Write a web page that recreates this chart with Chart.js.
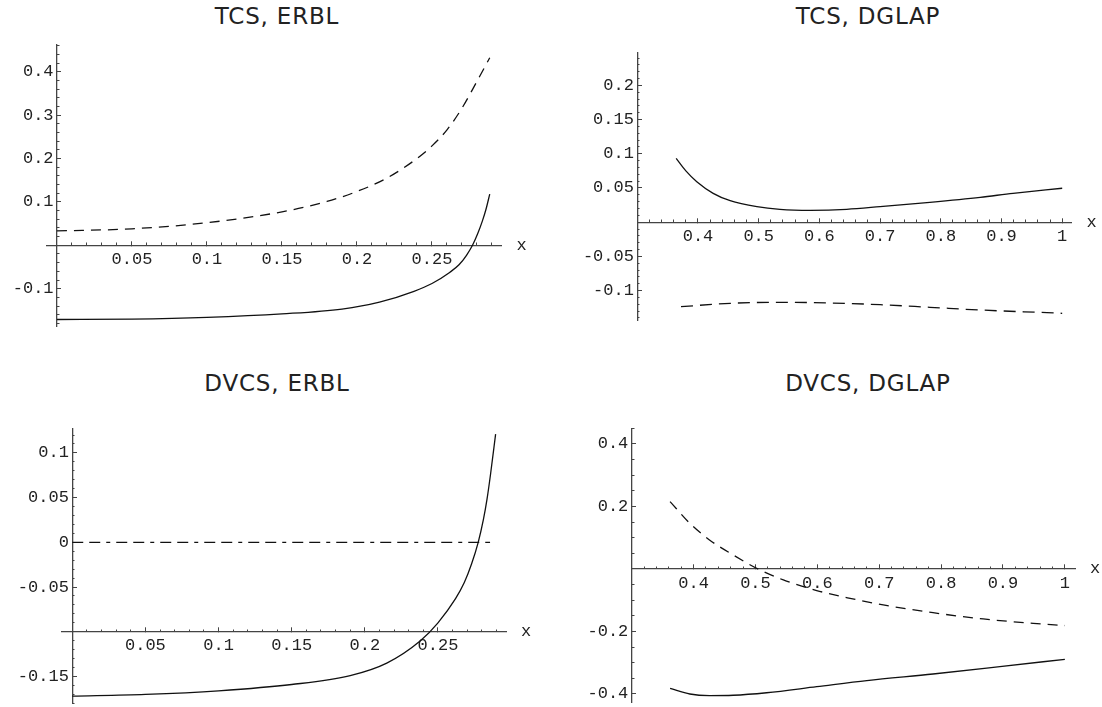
<!DOCTYPE html>
<html>
<head>
<meta charset="utf-8">
<script src="https://cdn.jsdelivr.net/npm/chart.js@4.4.1/dist/chart.umd.min.js"></script>
<style>
  body { margin: 0; background: #fff; width: 1102px; height: 707px; position: relative; overflow: hidden; }
  canvas { position: absolute; }
  .title { position: absolute; width: 400px; text-align: center; font: 23px/23px "DejaVu Sans"; letter-spacing: 0.8px; color: #222; }
</style>
</head>
<body>
<div class="title" style="left:77px;top:5px">TCS, ERBL</div>
<div class="title" style="left:668px;top:5px">TCS, DGLAP</div>
<div class="title" style="left:77px;top:372px">DVCS, ERBL</div>
<div class="title" style="left:668px;top:372px">DVCS, DGLAP</div>

<canvas id="tcsErbl" width="551" height="353" style="left:0;top:0"></canvas>
<canvas id="tcsDglap" width="551" height="353" style="left:551px;top:0"></canvas>
<canvas id="dvcsErbl" width="551" height="354" style="left:0;top:353px"></canvas>
<canvas id="dvcsDglap" width="551" height="354" style="left:551px;top:353px"></canvas>

<script>
// TCS, ERBL
var tcsErblDashX = [0, 0.05, 0.1, 0.15, 0.18, 0.2, 0.22, 0.24, 0.25, 0.26, 0.27, 0.28, 0.2885];
var tcsErblDashY = [0.033, 0.038, 0.052, 0.077, 0.101, 0.124, 0.155, 0.200, 0.229, 0.266, 0.316, 0.378, 0.432];
var tcsErblSolidX = [0, 0.05, 0.1, 0.15, 0.19, 0.215, 0.238, 0.25, 0.262, 0.268, 0.273, 0.277, 0.2805, 0.2835, 0.286, 0.2885];
var tcsErblSolidY = [-0.171, -0.170, -0.166, -0.158, -0.147, -0.131, -0.106, -0.088, -0.062, -0.045, -0.023, 0.0, 0.027, 0.055, 0.083, 0.118];
var tcsErblXTicks = [0.05, 0.1, 0.15, 0.2, 0.25];
var tcsErblYTicks = [-0.1, 0.1, 0.2, 0.3, 0.4];

// TCS, DGLAP
var tcsDglapSolidX = [0.364, 0.38, 0.398, 0.425, 0.453, 0.497, 0.535, 0.585, 0.645, 0.70, 0.782, 0.865, 0.919, 1.0];
var tcsDglapSolidY = [0.0934, 0.0750, 0.0592, 0.0422, 0.0314, 0.0227, 0.0188, 0.0174, 0.0188, 0.0227, 0.0291, 0.0364, 0.0422, 0.0496];
var tcsDglapDashX = [0.372, 0.453, 0.535, 0.617, 0.70, 0.782, 0.865, 0.975, 1.0];
var tcsDglapDashY = [-0.1235, -0.1186, -0.1171, -0.1181, -0.1206, -0.1244, -0.1284, -0.1323, -0.1332];
var tcsDglapXTicks = [0.4, 0.5, 0.6, 0.7, 0.8, 0.9, 1];
var tcsDglapYTicks = [-0.1, -0.05, 0.05, 0.1, 0.15, 0.2];

// DVCS, ERBL
var dvcsErblSolidX = [0, 0.05, 0.1, 0.15, 0.19, 0.215, 0.238, 0.25, 0.262, 0.268, 0.273, 0.2775, 0.281, 0.2835, 0.286, 0.2894];
var dvcsErblSolidY = [-0.172, -0.170, -0.166, -0.159, -0.149, -0.135, -0.110, -0.090, -0.063, -0.045, -0.024, 0.0, 0.025, 0.048, 0.077, 0.121];
var dvcsErblDashX = [0, 0.2856];
var dvcsErblDashY = [0, 0];
var dvcsErblXTicks = [0.05, 0.1, 0.15, 0.2, 0.25];
var dvcsErblYTicks = [-0.15, -0.05, 0, 0.05, 0.1];

// DVCS, DGLAP
var dvcsDglapDashX = [0.362, 0.394, 0.4257, 0.464, 0.502, 0.545, 0.599, 0.653, 0.7065, 0.787, 0.868, 0.949, 1.0];
var dvcsDglapDashY = [0.2155, 0.146, 0.0928, 0.0448, 0.002, -0.035, -0.069, -0.094, -0.115, -0.140, -0.160, -0.174, -0.181];
var dvcsDglapSolidX = [0.362, 0.394, 0.4257, 0.464, 0.518, 0.599, 0.68, 0.787, 0.895, 1.0];
var dvcsDglapSolidY = [-0.382, -0.400, -0.405, -0.404, -0.396, -0.3765, -0.357, -0.336, -0.3125, -0.289];
var dvcsDglapXTicks = [0.4, 0.5, 0.6, 0.7, 0.8, 0.9, 1];
var dvcsDglapYTicks = [-0.4, -0.2, 0.2, 0.4];

var axisColor = '#444';
var tickFont = { family: '"Liberation Mono", monospace', size: 17 };

function zeroBox(s) {
  if (s.isHorizontal()) s.height = 0; else s.width = 0;
  s.paddingLeft = s.paddingRight = s.paddingTop = s.paddingBottom = 0;
}

function minorTicks(min, max, step) {
  var out = [];
  for (var k = Math.ceil(min / step); k * step <= max + 1e-9; k++) {
    out.push({ value: Math.round(k * step * 1e6) / 1e6 });
  }
  return out;
}

var xLetter = {
  id: 'xLetter',
  afterDraw: function(chart) {
    var xs = chart.scales.x, ys = chart.scales.y;
    var ctx = chart.ctx;
    ctx.save();
    ctx.font = '17px "Liberation Mono", monospace';
    ctx.fillStyle = '#222';
    ctx.textAlign = 'center';
    ctx.textBaseline = 'middle';
    ctx.fillText('x', xs.right + 20, ys.getPixelForValue(xs.options.position.y));
    ctx.restore();
  }
};

function line(xs, ys, dash) {
  return {
    data: xs.map(function(v, i) { return { x: v, y: ys[i] }; }),
    borderColor: '#111',
    borderWidth: 1.3,
    borderDash: dash || [],
    pointRadius: 0,
    fill: false,
    cubicInterpolationMode: 'monotone'
  };
}

function makeChart(id, p) {
  new Chart(document.getElementById(id), {
    type: 'line',
    data: { datasets: p.series },
    options: {
      responsive: false,
      animation: false,
      events: [],
      layout: { padding: p.pad },
      plugins: { legend: { display: false }, tooltip: { enabled: false } },
      scales: {
        x: {
          type: 'linear', min: p.xMin, max: p.xMax, bounds: 'data', position: { y: p.xAt },
          afterBuildTicks: function(s) { s.ticks = p.xTicks.map(function(v) { return { value: v }; }); },
          afterFit: zeroBox,
          grid: { drawOnChartArea: false, tickLength: -5, tickColor: axisColor, tickWidth: 1 },
          border: { display: true, color: axisColor, width: 1.3 },
          ticks: { autoSkip: false, maxRotation: 0, padding: 9, color: '#222', font: tickFont,
                   callback: function(v) { return String(v); } }
        },
        xm: {
          type: 'linear', axis: 'x', min: p.xMin, max: p.xMax, bounds: 'data', position: { y: p.xAt },
          afterBuildTicks: function(s) { s.ticks = minorTicks(p.xMinTick, p.xMax, p.xMinor); },
          afterFit: zeroBox,
          grid: { drawOnChartArea: false, tickLength: -2.5, tickColor: axisColor, tickWidth: 1 },
          border: { display: false },
          ticks: { display: false }
        },
        y: {
          type: 'linear', min: p.yMin, max: p.yMax, bounds: 'data', position: { x: p.yAt },
          afterBuildTicks: function(s) { s.ticks = p.yTicks.map(function(v) { return { value: v }; }); },
          afterFit: zeroBox,
          grid: { drawOnChartArea: false, tickLength: -5, tickColor: axisColor, tickWidth: 1 },
          border: { display: true, color: axisColor, width: 1.3 },
          // labels sit right-aligned on the axis, a thin space keeps them off the line
          ticks: { autoSkip: false, color: '#222', font: tickFont,
                   callback: function(v) { return String(v) + '\u2009'; } }
        },
        ym: {
          type: 'linear', axis: 'y', min: p.yMin, max: p.yMax, bounds: 'data', position: { x: p.yAt },
          afterBuildTicks: function(s) { s.ticks = minorTicks(p.yMin, p.yMax, p.yMinor); },
          afterFit: zeroBox,
          grid: { drawOnChartArea: false, tickLength: -2.5, tickColor: axisColor, tickWidth: 1 },
          border: { display: false },
          ticks: { display: false }
        }
      }
    },
    plugins: [xLetter]
  });
}

makeChart('tcsErbl', {
  series: [line(tcsErblDashX, tcsErblDashY, [10, 7]), line(tcsErblSolidX, tcsErblSolidY)],
  pad: { left: 46.6, top: 45, right: 49.4, bottom: 26.3 },
  xMin: -0.0069, xMax: 0.2964, xAt: 0, xTicks: tcsErblXTicks, xMinor: 0.01, xMinTick: 0,
  yMin: -0.1876, yMax: 0.4615, yAt: 0, yTicks: tcsErblYTicks, yMinor: 0.02
});

makeChart('tcsDglap', {
  series: [line(tcsDglapSolidX, tcsDglapSolidY), line(tcsDglapDashX, tcsDglapDashY, [12, 7])],
  pad: { left: 86.3, top: 52.7, right: 30.4, bottom: 33 },
  xMin: 0.3, xMax: 1.0155, xAt: 0, xTicks: tcsDglapXTicks, xMinor: 0.02, xMinTick: 0.3,
  yMin: -0.143, yMax: 0.2478, yAt: 0.3, yTicks: tcsDglapYTicks, yMinor: 0.01
});

makeChart('dvcsErbl', {
  series: [line(dvcsErblDashX, dvcsErblDashY, [11, 6, 11, 6, 4, 6]), line(dvcsErblSolidX, dvcsErblSolidY)],
  pad: { left: 62, top: 75.3, right: 45, bottom: 3.7 },
  xMin: -0.0070, xMax: 0.2965, xAt: -0.1, xTicks: dvcsErblXTicks, xMinor: 0.01, xMinTick: 0,
  yMin: -0.180, yMax: 0.1275, yAt: 0, yTicks: dvcsErblYTicks, yMinor: 0.01
});

makeChart('dvcsDglap', {
  series: [line(dvcsDglapDashX, dvcsDglapDashY, [10, 7]), line(dvcsDglapSolidX, dvcsDglapSolidY)],
  pad: { left: 80.7, top: 75.3, right: 27, bottom: 5 },
  xMin: 0.3, xMax: 1.0164, xAt: 0, xTicks: dvcsDglapXTicks, xMinor: 0.02, xMinTick: 0.3,
  yMin: -0.4256, yMax: 0.450, yAt: 0.3, yTicks: dvcsDglapYTicks, yMinor: 0.05
});
</script>
</body>
</html>
